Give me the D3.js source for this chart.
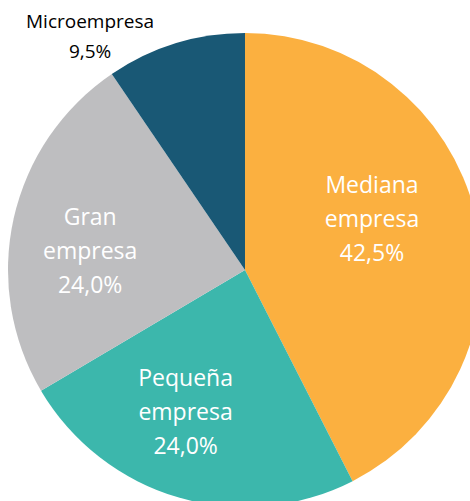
<!DOCTYPE html>
<html lang="es">
<head>
<meta charset="utf-8">
<title>Empresas</title>
<style>
  body { margin: 0; background: #fff; }
  .lbl { font-family: "Open Sans", sans-serif; }
</style>
</head>
<body>
<svg width="470" height="501"></svg>
<script src="https://cdn.jsdelivr.net/npm/d3@7/dist/d3.min.js"></script>
<script>
var names = ['Mediana empresa', 'Pequeña empresa', 'Gran empresa', 'Microempresa'];
var values = [42.5, 24.0, 24.0, 9.5];
var colors = ['#FBB040', '#3CB7AC', '#BEBEC0', '#195875'];

// label placement: [angle in degrees from top, radius] (layout only)
var labelAt = [[68, 137], [202.7, 154], [277, 156], [326.4, 280]];
var labelLines = [['Mediana', 'empresa'], ['Pequeña', 'empresa'], ['Gran', 'empresa'], ['Microempresa']];

var svg = d3.select('svg'),
  cx = 245, cy = 270, r = 237;

var data = names.map(function(n, i) { return { name: n, value: values[i], i: i }; });

var pie = d3.pie().sort(null).value(function(d) { return d.value; });
var arc = d3.arc().innerRadius(0).outerRadius(r);

var g = svg.append('g').attr('transform', 'translate(' + cx + ',' + cy + ')');

g.selectAll('path')
  .data(pie(data))
  .enter()
  .append('path')
  .attr('d', arc)
  .attr('fill', function(d) { return colors[d.data.i]; });

var fmt = function(v) { return v.toFixed(1).replace('.', ',') + '%'; };

data.forEach(function(d, i) {
  var a = labelAt[i][0] * Math.PI / 180, rr = labelAt[i][1];
  var x = Math.sin(a) * rr, y = -Math.cos(a) * rr;
  var inside = i < 3;
  var lines = labelLines[i].concat([fmt(d.value)]);
  var lh = inside ? 34 : 30;
  var t = g.append('text')
    .attr('class', 'lbl')
    .attr('text-anchor', 'middle')
    .attr('font-size', inside ? 23 : 19)
    .attr('fill', inside ? '#fff' : '#000');
  lines.forEach(function(s, k) {
    t.append('tspan')
      .attr('x', x)
      .attr('y', y + (k - (lines.length - 1) / 2) * lh)
      .attr('dy', '0.35em')
      .text(s);
  });
});
</script>
</body>
</html>
